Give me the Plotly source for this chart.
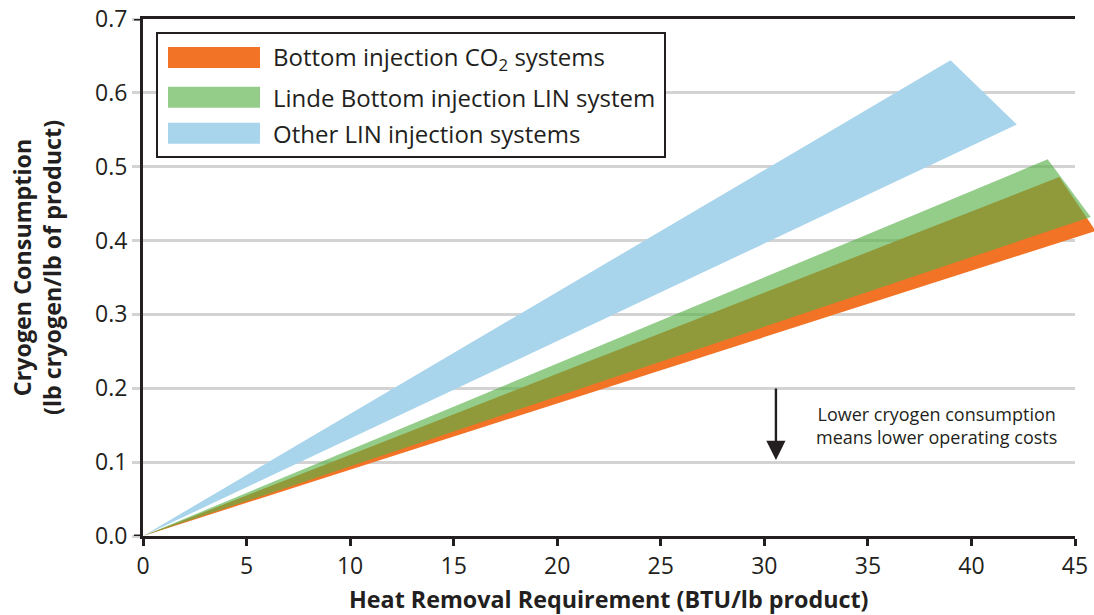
import plotly.graph_objects as go

# ---- data ----
series_names = ["Other LIN injection systems", "Bottom injection CO<sub>2</sub> systems",
                "Linde Bottom injection LIN system"]
# each band: origin -> upper tip -> lower tip -> origin
upper_x = [38.99, 44.24, 43.68]
upper_y = [0.644, 0.486, 0.510]
lower_x = [42.19, 46.00, 45.76]
lower_y = [0.557, 0.413, 0.432]
fill_colors = ["rgb(168,212,236)", "rgb(243,115,38)", "rgba(88,177,72,0.64)"]

legend_labels = ["Bottom injection CO<sub>2</sub> systems", "Linde Bottom injection LIN system",
                 "Other LIN injection systems"]
legend_colors = ["rgb(243,115,38)", "rgb(148,205,138)", "rgb(168,212,236)"]

x_ticks = [0, 5, 10, 15, 20, 25, 30, 35, 40, 45]
y_ticks = [0.0, 0.1, 0.2, 0.3, 0.4, 0.5, 0.6, 0.7]
y_tick_text = ["0.0", "0.1", "0.2", "0.3", "0.4", "0.5", "0.6", "0.7"]

x_title = "<b>Heat Removal Requirement (BTU/lb product)</b>"
y_title = "<b>Cryogen Consumption<br>(lb cryogen/lb of product)</b>"

note_text = "Lower cryogen consumption<br>means lower operating costs"
note_x, note_y = 38.3, 0.1496
arrow_x, arrow_tip_y, arrow_tail_y = 30.56, 0.103, 0.2017

FONT = "Open Sans"
DARK = "#231f20"
GRID = "#d3d3d3"

W, H = 1094, 615
ML, MR, MT, MB = 143, 0, 19, 79
plot_w = W - ML - MR
plot_h = H - MT - MB
axis_px = 932
x_dom_end = axis_px / plot_w
x2_max = 45 * plot_w / axis_px

fig = go.Figure()
for i in range(3):
    fig.add_trace(go.Scatter(
        x=[0, upper_x[i], lower_x[i], 0], y=[0, upper_y[i], lower_y[i], 0],
        mode="lines", fill="toself", fillcolor=fill_colors[i],
        line=dict(width=0, color="rgba(0,0,0,0)"),
        name=series_names[i], showlegend=False, hoverinfo="skip",
        xaxis="x2", yaxis="y2"))

# helper trace to keep main subplot alive
fig.add_trace(go.Scatter(x=[0], y=[0], mode="markers", marker=dict(opacity=0),
                         showlegend=False, hoverinfo="skip", xaxis="x", yaxis="y"))

def px2paper_x(px):
    return (px - ML) / plot_w

def px2paper_y(py):
    return (H - MB - py) / plot_h

shapes = []
annotations = []
# legend box
shapes.append(dict(type="rect", xref="paper", yref="paper",
                   x0=px2paper_x(157), x1=px2paper_x(665),
                   y0=px2paper_y(157), y1=px2paper_y(33),
                   line=dict(color=DARK, width=2), fillcolor="white", layer="above"))
row_centers = [57.5, 97.2, 133.2]
for i, lab in enumerate(legend_labels):
    c = row_centers[i]
    shapes.append(dict(type="rect", xref="paper", yref="paper",
                       x0=px2paper_x(168), x1=px2paper_x(260),
                       y0=px2paper_y(c + 10.5), y1=px2paper_y(c - 10.5),
                       line=dict(width=0), fillcolor=legend_colors[i], layer="above"))
    annotations.append(dict(xref="paper", yref="paper", x=px2paper_x(271), y=px2paper_y(c),
                            text=lab, showarrow=False, xanchor="left", yanchor="middle",
                            font=dict(family=FONT, size=24, color=DARK)))

# black ticks at 0.0 and 0.7 on y axis
for yv in (0.0, 0.7):
    shapes.append(dict(type="line", xref="paper", yref="y",
                       x0=px2paper_x(134), x1=0, y0=yv, y1=yv,
                       line=dict(color=DARK, width=3)))

# axis titles
annotations.append(dict(xref="paper", yref="paper", x=px2paper_x(608), y=px2paper_y(599),
                        text=x_title, showarrow=False, xanchor="center", yanchor="middle",
                        font=dict(family=FONT, size=23.3, color=DARK)))
annotations.append(dict(xref="paper", yref="paper", x=px2paper_x(37), y=px2paper_y(268),
                        text=y_title, showarrow=False, xanchor="center", yanchor="middle",
                        textangle=-90,
                        font=dict(family=FONT, size=23.3, color=DARK)))

# note + arrow
annotations.append(dict(x=note_x, y=note_y, xref="x", yref="y", text=note_text,
                        showarrow=False, align="center",
                        font=dict(family=FONT, size=18, color=DARK)))
annotations.append(dict(x=arrow_x, y=arrow_tip_y, xref="x", yref="y",
                        ax=arrow_x, ay=arrow_tail_y, axref="x", ayref="y",
                        text="", showarrow=True, arrowhead=2, arrowsize=1.6,
                        arrowwidth=2.4, arrowcolor=DARK))

fig.update_layout(
    width=W, height=H,
    margin=dict(l=ML, r=MR, t=MT, b=MB, autoexpand=False),
    paper_bgcolor="white", plot_bgcolor="rgba(0,0,0,0)",
    font=dict(family=FONT, color=DARK),
    showlegend=False,
    shapes=shapes, annotations=annotations,
    xaxis=dict(domain=[0, x_dom_end], range=[0, 45], anchor="y", automargin=False,
               tickvals=x_ticks, ticks="outside", ticklen=7, tickwidth=3, tickcolor=DARK,
               showline=True, linewidth=3, linecolor=DARK, mirror=True,
               showgrid=False, zeroline=False,
               tickfont=dict(family=FONT, size=23, color=DARK)),
    yaxis=dict(domain=[0, 1], range=[0, 0.7], anchor="x", automargin=False,
               tickvals=y_ticks, ticktext=y_tick_text,
               ticks="outside", ticklen=8, tickwidth=3, tickcolor=GRID,
               showline=True, linewidth=3, linecolor=DARK,
               showgrid=True, gridcolor=GRID, gridwidth=3, zeroline=False,
               tickfont=dict(family=FONT, size=23, color=DARK)),
    xaxis2=dict(domain=[0, 1], range=[0, x2_max], anchor="y2", visible=False,
                showgrid=False, zeroline=False, automargin=False),
    yaxis2=dict(range=[0, 0.7], overlaying="y", anchor="x2", visible=False,
                showgrid=False, zeroline=False, automargin=False),
)

fig.write_html("out.html", config={"displayModeBar": False},
               post_script="document.body.style.margin='0';document.body.style.padding='0';"
                           "document.body.style.overflow='hidden';")
